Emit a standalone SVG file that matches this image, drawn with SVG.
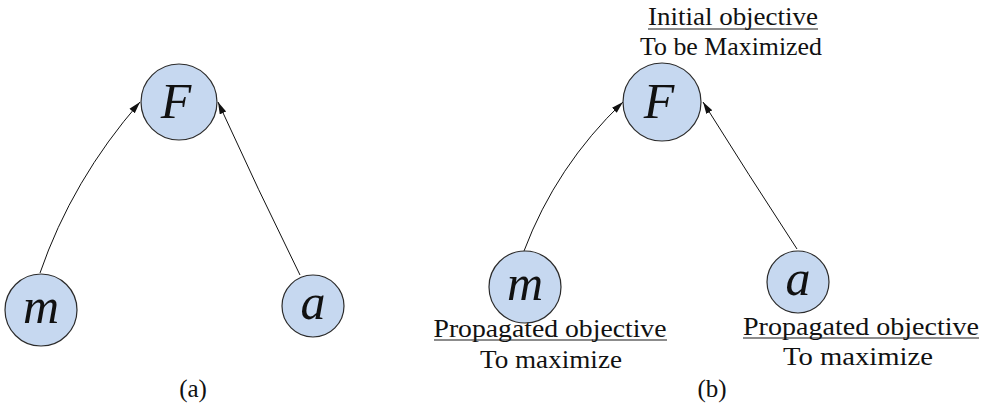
<svg xmlns="http://www.w3.org/2000/svg" width="988" height="408" viewBox="0 0 988 408">
<defs>
<style>
.node{fill:#c6d8f0;stroke:#2b2b2b;stroke-width:1.2}
.var{font-family:'Liberation Serif','Times New Roman',serif;font-style:italic;font-size:50px;fill:#111;text-anchor:middle}
.lbl{font-family:'Liberation Serif','Times New Roman',serif;font-size:25px;fill:#111;text-anchor:middle}
.ul{stroke:#1a1a1a;stroke-width:1.2}
.edge{fill:none;stroke:#111;stroke-width:1}
</style>
<marker id="arr" markerWidth="13" markerHeight="9" refX="12" refY="4.5" orient="auto" markerUnits="userSpaceOnUse">
<path d="M0,1 L12,4.5 L0,8 Z" fill="#111"/>
</marker>
</defs>
<rect width="988" height="408" fill="#fff"/>
<g id="connectors">
<path class="edge" d="M40,273 Q72,180 140,102" marker-end="url(#arr)"/>
<path class="edge" d="M300,275 Q258,190 218,102" marker-end="url(#arr)"/>
<path class="edge" d="M524,251 Q556,166 623,102" marker-end="url(#arr)"/>
<path class="edge" d="M797,249 Q748,174 703,102" marker-end="url(#arr)"/>
</g>
<g id="a-F"><circle class="node" cx="179" cy="102" r="38"/><text class="var" x="176" y="118">F</text></g>
<g id="a-m"><circle class="node" cx="41" cy="310" r="36"/><text class="var" x="41" y="323">m</text></g>
<g id="a-a"><circle class="node" cx="313" cy="306" r="31"/><text class="var" x="313" y="319">a</text></g>
<g id="b-F"><circle class="node" cx="662" cy="102" r="39"/><text class="var" x="659" y="118">F</text>
<text class="lbl" x="733" y="25" textLength="170" lengthAdjust="spacingAndGlyphs">Initial objective</text>
<line class="ul" x1="648" y1="29" x2="818" y2="29"/>
<text class="lbl" x="731" y="55" textLength="182" lengthAdjust="spacingAndGlyphs">To be Maximized</text></g>
<g id="b-m"><circle class="node" cx="525" cy="287" r="36"/><text class="var" x="525" y="300">m</text>
<text class="lbl" x="550" y="337" textLength="233" lengthAdjust="spacingAndGlyphs">Propagated objective</text>
<line class="ul" x1="434" y1="340" x2="667" y2="340"/>
<text class="lbl" x="551" y="368" textLength="142" lengthAdjust="spacingAndGlyphs">To maximize</text></g>
<g id="b-a"><circle class="node" cx="798" cy="282" r="31"/><text class="var" x="798" y="295">a</text>
<text class="lbl" x="861" y="335" textLength="236" lengthAdjust="spacingAndGlyphs">Propagated objective</text>
<line class="ul" x1="743" y1="338" x2="979" y2="338"/>
<text class="lbl" x="858" y="365" textLength="150" lengthAdjust="spacingAndGlyphs">To maximize</text></g>
<text class="lbl" x="193" y="397">(a)</text>
<text class="lbl" x="712" y="397">(b)</text>
</svg>
